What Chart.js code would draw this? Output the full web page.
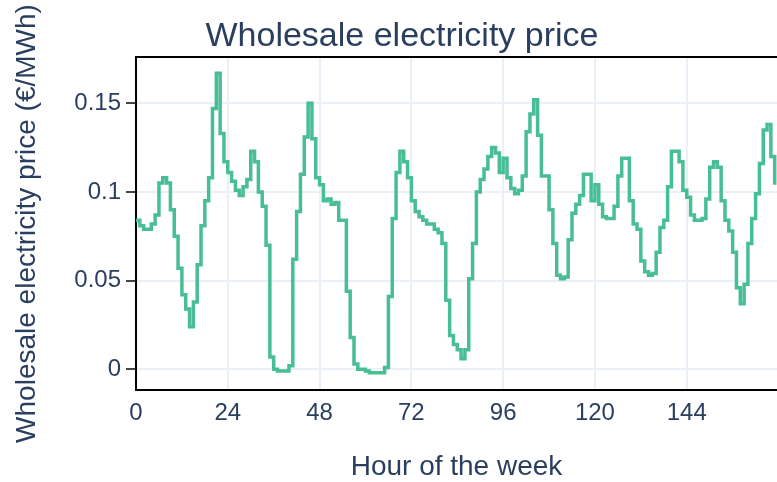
<!DOCTYPE html>
<html>
<head>
<meta charset="utf-8">
<script src="https://cdn.jsdelivr.net/npm/chart.js@4.4.1/dist/chart.umd.min.js"></script>
<style>
  html, body { margin: 0; padding: 0; background: #ffffff; overflow: hidden; }
  #wrap { width: 777px; height: 482px; }
</style>
</head>
<body>
<div id="wrap"><canvas id="c" width="777" height="482"></canvas></div>
<script>
// Wholesale electricity price per hour of the week (€/MWh as labelled)
const prices = [
  0.084, 0.081, 0.079, 0.079, 0.082, 0.087, 0.105, 0.108, 0.105, 0.090,
  0.075, 0.057, 0.042, 0.034, 0.024, 0.038, 0.059, 0.081, 0.095, 0.108,
  0.147, 0.167, 0.133, 0.117, 0.111, 0.106, 0.101, 0.098, 0.103, 0.107,
  0.123, 0.117, 0.100, 0.092, 0.070, 0.007, 0.000, -0.001, -0.001, -0.001,
  0.002, 0.062, 0.089, 0.110, 0.131, 0.150, 0.130, 0.108, 0.104, 0.095,
  0.096, 0.093, 0.094, 0.084, 0.084, 0.044, 0.018, 0.003, 0.000, 0.000,
  -0.001, -0.002, -0.002, -0.002, -0.002, 0.001, 0.041, 0.085, 0.111, 0.123,
  0.117, 0.108, 0.095, 0.089, 0.086, 0.084, 0.082, 0.082, 0.079, 0.077,
  0.071, 0.039, 0.019, 0.014, 0.011, 0.006, 0.011, 0.051, 0.071, 0.100,
  0.107, 0.113, 0.120, 0.125, 0.122, 0.111, 0.119, 0.108, 0.102, 0.099,
  0.101, 0.109, 0.134, 0.144, 0.152, 0.132, 0.109, 0.109, 0.090, 0.071,
  0.053, 0.051, 0.052, 0.073, 0.088, 0.093, 0.098, 0.110, 0.110, 0.095,
  0.104, 0.093, 0.086, 0.085, 0.085, 0.092, 0.109, 0.119, 0.119, 0.095,
  0.082, 0.079, 0.061, 0.055, 0.053, 0.054, 0.066, 0.080, 0.084, 0.103,
  0.123, 0.123, 0.117, 0.101, 0.097, 0.087, 0.084, 0.084, 0.085, 0.096,
  0.114, 0.117, 0.114, 0.095, 0.084, 0.078, 0.066, 0.046, 0.037, 0.048,
  0.071, 0.085, 0.099, 0.116, 0.135, 0.138, 0.120, 0.104
];
const hours = prices.map((_, i) => i);          // hour index 0..167
const xTickValues = [0, 24, 48, 72, 96, 120, 144];
const yTickValues = [0, 0.05, 0.1, 0.15];
const yTickLabels = ['0', '0.05', '0.1', '0.15'];

const titleText = 'Wholesale electricity price';
const xTitle = 'Hour of the week';
const yTitle = 'Wholesale electricity price (€/MWh)';

const FONT = "'Liberation Sans', Arial, Helvetica, sans-serif";
const TEXT = '#2a3f5f';
const GRID = '#EBF0F8';

const framePlugin = {
  id: 'frameTop',
  afterDraw(chart) {
    const {ctx, chartArea} = chart;
    ctx.save();
    ctx.strokeStyle = '#000';
    ctx.lineWidth = 2;
    ctx.beginPath();
    ctx.moveTo(chartArea.left - 1, Math.round(chartArea.top));
    ctx.lineTo(chart.width, Math.round(chartArea.top));
    ctx.stroke();
    ctx.restore();
  }
};

new Chart(document.getElementById('c'), {
  type: 'line',
  data: {
    datasets: [{
      data: hours.map((h, i) => ({x: h, y: prices[i]})),
      borderColor: '#47BE94',
      borderWidth: 3.5,
      pointRadius: 0,
      stepped: 'before',
      fill: false,
      tension: 0
    }]
  },
  options: {
    responsive: false,
    animation: false,
    devicePixelRatio: 1,
    layout: { padding: { left: 27, right: 0, top: 0, bottom: 0 } },
    plugins: {
      legend: { display: false },
      tooltip: { enabled: false },
      title: {
        display: true,
        text: titleText,
        color: TEXT,
        font: { family: FONT, size: 34, weight: 'normal', lineHeight: 1.2 },
        padding: { top: 16, bottom: 0.2 }
      }
    },
    scales: {
      x: {
        type: 'linear',
        min: 0,
        max: 167.6,
        afterBuildTicks(scale) { scale.ticks = xTickValues.map(v => ({value: v})); },
        afterFit(scale) { scale.height = 92; },
        grid: { color: GRID, lineWidth: 2, drawTicks: false, tickLength: 0 },
        border: { display: true, color: '#000', width: 2 },
        ticks: {
          color: TEXT, padding: 9, maxRotation: 0, autoSkip: false,
          font: { family: FONT, size: 24 },
          callback: (v) => String(v)
        },
        title: {
          display: true, text: xTitle, color: TEXT,
          font: { family: FONT, size: 28, lineHeight: 1.0 },
          padding: { top: 0, bottom: 1 }
        }
      },
      y: {
        type: 'linear',
        min: -0.01167,
        max: 0.1761,
        afterBuildTicks(scale) { scale.ticks = yTickValues.map(v => ({value: v})); },
        afterFit(scale) { scale.width = 109; },
        grid: { color: GRID, lineWidth: 2, drawTicks: true, tickLength: 10, tickColor: '#444', tickWidth: 2 },
        border: { display: true, color: '#000', width: 2 },
        ticks: {
          color: TEXT, padding: 5, autoSkip: false,
          font: { family: FONT, size: 24 },
          callback: (v) => { const i = yTickValues.indexOf(v); return i >= 0 ? yTickLabels[i] : ''; }
        },
        title: {
          display: true, text: yTitle, color: TEXT,
          font: { family: FONT, size: 28, lineHeight: 0.02 },
          padding: { top: 0, bottom: 0 }
        }
      }
    }
  },
  plugins: [framePlugin]
});
</script>
</body>
</html>
